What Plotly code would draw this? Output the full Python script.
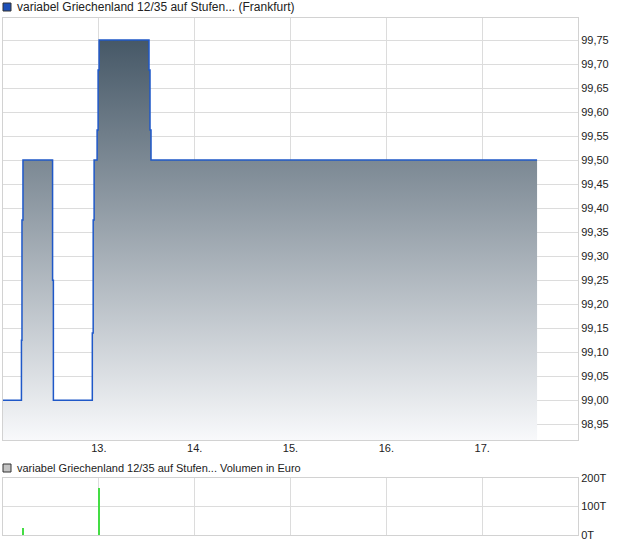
import plotly.graph_objects as go
from plotly.subplots import make_subplots

# ---- data ----
price_times = [
    "2025-01-12 00:00", "2025-01-12 04:37", "2025-01-12 04:45", "2025-01-12 05:00",
    "2025-01-12 12:25", "2025-01-12 12:37", "2025-01-12 22:22", "2025-01-12 22:35",
    "2025-01-12 22:49", "2025-01-12 23:34", "2025-01-12 23:49", "2025-01-13 00:04",
    "2025-01-13 12:34", "2025-01-13 12:49", "2025-01-13 13:04", "2025-01-17 13:45",
]
price_values = [
    99.00, 99.125, 99.375, 99.50,
    99.25, 99.00, 99.14, 99.375,
    99.50, 99.5625, 99.6875, 99.75,
    99.6875, 99.5625, 99.50, 99.50,
]
volume_times = ["2025-01-12 05:00", "2025-01-13 00:00"]
volume_values = [25000, 165000]

x_tick_vals = ["2025-01-13", "2025-01-14", "2025-01-15", "2025-01-16", "2025-01-17"]
x_tick_text = ["13.", "14.", "15.", "16.", "17."]
vol_tick_vals = [0, 100000, 200000]
vol_tick_text = ["0T", "100T", "200T"]

price_title = "variabel Griechenland 12/35 auf Stufen... (Frankfurt)"
volume_title = "variabel Griechenland 12/35 auf Stufen... Volumen in Euro"

# ---- layout geometry (pixels) ----
W, H = 620, 546
L, R, T, B = 3, 42, 18, 11
PW, PH = W - L - R, H - T - B
top_plot_bottom = 440
bot_plot_top = 478


def px_x(x):
    return (x - L) / PW


def px_y(y):
    return (H - B - y) / PH


fig = make_subplots(rows=2, cols=1, shared_xaxes=True, vertical_spacing=0.0)

fig.add_trace(go.Scatter(
    x=price_times, y=price_values, mode="lines", line=dict(shape="hv", color="#1f58c8", width=1.5),
    fill="tozeroy",
    fillgradient=dict(type="vertical", start=98.917, stop=99.75,
                      colorscale=[[0, "#f8f9fb"], [1, "#465867"]]),
    showlegend=False, hoverinfo="skip"), row=1, col=1)

fig.add_trace(go.Bar(
    x=volume_times, y=volume_values, marker=dict(color="#44dd44", line=dict(width=0)),
    width=900000, showlegend=False), row=2, col=1)

grid = "#dcdcdc"
frame = "#d2d2d2"
font = dict(family="Liberation Sans, Arial, sans-serif", size=11, color="#222222")
title_font = dict(family="Liberation Sans, Arial, sans-serif", size=12, color="#222222")

fig.update_layout(
    width=W, height=H, margin=dict(l=L, r=R, t=T, b=B, autoexpand=False),
    paper_bgcolor="white", plot_bgcolor="white", font=font,
    separators=",.", bargap=0,
)

fig.update_xaxes(type="date", range=["2025-01-12", "2025-01-18"], tickvals=x_tick_vals,
                 showgrid=True, gridcolor=grid, gridwidth=1, showline=True, mirror=True,
                 linecolor=frame, linewidth=1, ticks="", zeroline=False)
fig.update_xaxes(ticktext=x_tick_text, showticklabels=True, ticklabelstandoff=-2, row=1, col=1)
fig.update_xaxes(ticktext=x_tick_text, showticklabels=False, row=2, col=1)

fig.update_yaxes(domain=[px_y(top_plot_bottom), 1], range=[98.917, 99.796], side="right",
                 dtick=0.05, tick0=0, tickformat=".2f", showgrid=True, gridcolor=grid,
                 showline=True, mirror=True, linecolor=frame, ticks="", zeroline=False,
                 row=1, col=1)
fig.update_yaxes(domain=[0, px_y(bot_plot_top)], range=[0, 200000], side="right",
                 tickvals=vol_tick_vals, ticktext=vol_tick_text, showgrid=True, gridcolor=grid,
                 showline=True, mirror=True, linecolor=frame, ticks="", zeroline=False,
                 row=2, col=1)

# legend-like headers
fig.add_shape(type="rect", xref="paper", yref="paper", x0=px_x(3), x1=px_x(11),
              y0=px_y(11), y1=px_y(3), fillcolor="#1c4fb8", line=dict(color="#333333", width=1))
fig.add_annotation(xref="paper", yref="paper", x=px_x(15), y=px_y(7), text=price_title,
                   showarrow=False, xanchor="left", yanchor="middle", font=title_font)
fig.add_shape(type="rect", xref="paper", yref="paper", x0=px_x(3), x1=px_x(11),
              y0=px_y(472), y1=px_y(464), fillcolor="#c4c4c4", line=dict(color="#333333", width=1))
fig.add_annotation(xref="paper", yref="paper", x=px_x(15), y=px_y(468), text=volume_title,
                   showarrow=False, xanchor="left", yanchor="middle", font=font)

fig.write_html("out.html", config={"displayModeBar": False},
               post_script="document.body.style.margin='0px';")
